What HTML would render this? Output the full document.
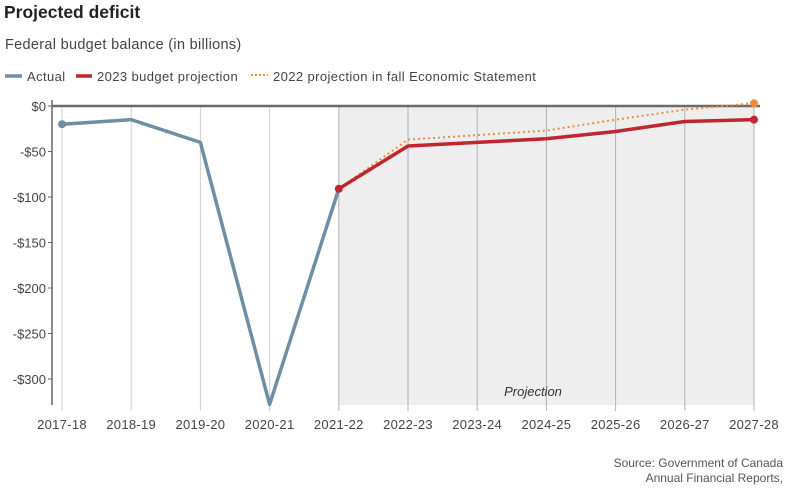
<!DOCTYPE html>
<html><head><meta charset="utf-8"><style>
body{margin:0;background:#fff;font-family:"Liberation Sans",sans-serif;}
svg text{font-family:"Liberation Sans",sans-serif;}
</style></head><body>
<svg id="chart" width="790" height="488" viewBox="0 0 790 488">
<text x="4" y="18" font-size="17.5" font-weight="bold" fill="#222">Projected deficit</text>
<text x="5" y="49" font-size="14.5" fill="#444" letter-spacing="0.3">Federal budget balance (in billions)</text>
<g>
<line x1="5" y1="76" x2="22" y2="76" stroke="#6d8ea3" stroke-width="3.5"/>
<text x="27" y="81" font-size="13" fill="#444" letter-spacing="0.4">Actual</text>
<line x1="76" y1="76" x2="92" y2="76" stroke="#c0262f" stroke-width="3.5"/>
<text x="97" y="81" font-size="13" fill="#444" letter-spacing="0.4">2023 budget projection</text>
<line x1="251" y1="75" x2="268" y2="75" stroke="#ee8a3c" stroke-width="2" stroke-dasharray="2,2"/>
<text x="273" y="81" font-size="13" fill="#444" letter-spacing="0.4">2022 projection in fall Economic Statement</text>
</g>
<g id="plot"></g>
<text x="783" y="467" font-size="12" fill="#555" text-anchor="end">Source: Government of Canada</text>
<text x="783" y="482" font-size="12" fill="#555" text-anchor="end">Annual Financial Reports,</text>
</svg>
<script>
const categories=["2017-18","2018-19","2019-20","2020-21","2021-22","2022-23","2023-24","2024-25","2025-26","2026-27","2027-28"];
const actual=[-20,-15,-40,-328,-91];
const budget2023=[null,null,null,null,-91,-44,-40,-36,-28,-17,-15];
const fes2022=[null,null,null,null,-91,-37,-32,-27,-15,-4,3];
const yTicks=[0,-50,-100,-150,-200,-250,-300];
const yLabels=["$0","-$50","-$100","-$150","-$200","-$250","-$300"];
const NS="http://www.w3.org/2000/svg";
const g=document.getElementById('plot');
const x0=62,x1=754,yTop=106,yBot=405;
const X=i=>x0+i*(x1-x0)/(categories.length-1);
const Y=v=>yTop-v*0.91;
function mk(t,a){const e=document.createElementNS(NS,t);for(const k in a)e.setAttribute(k,a[k]);g.appendChild(e);return e;}
let e=mk('rect',{x:X(4),y:yTop,width:X(10)-X(4),height:yBot-yTop,fill:'#eeeeee'});


categories.forEach((c,i)=>{
 let l=mk('line',{x1:X(i),x2:X(i),y1:yTop,y2:yBot+6,stroke:i>=4?'#a9b4bc':'#cfcfcf','stroke-width':1});
 
 
 let t=mk('text',{x:X(i),y:429,'font-size':13,fill:'#444','text-anchor':'middle','letter-spacing':0.3});
 t.textContent=c;
 
 
});
yTicks.forEach((v,i)=>{
 let t=mk('text',{x:46,y:Y(v)+5,'font-size':13,fill:'#444','text-anchor':'end'});
 t.textContent=yLabels[i];
 
 
 let tk=mk('line',{x1:48,x2:52,y1:Y(v),y2:Y(v),stroke:'#666'});
 
 
});
e=mk('line',{x1:52,x2:52,y1:100,y2:yBot,stroke:'#666','stroke-width':1.5});


e=mk('line',{x1:52,x2:760,y1:Y(0),y2:Y(0),stroke:'#6b6b6b','stroke-width':2.5});


e=mk('text',{x:533,y:396,'font-size':13,fill:'#333','font-style':'italic','text-anchor':'middle'});
e.textContent='Projection';


function pts(arr){return arr.map((v,i)=>v==null?null:X(i)+','+Y(v)).filter(p=>p).join(' ');}
e=mk('polyline',{points:pts(actual),fill:'none',stroke:'#6d8ea3','stroke-width':3.5,'stroke-linejoin':'round'});


e=mk('circle',{cx:X(0),cy:Y(actual[0]),r:4,fill:'#6d8ea3'});


e=mk('polyline',{points:pts(fes2022),fill:'none',stroke:'#ee8a3c','stroke-width':2,'stroke-dasharray':'2,3'});


e=mk('polyline',{points:pts(budget2023),fill:'none',stroke:'#c0262f','stroke-width':3.5,'stroke-linejoin':'round'});


e=mk('circle',{cx:X(4),cy:Y(budget2023[4]),r:4,fill:'#c0262f'});


e=mk('circle',{cx:X(10),cy:Y(budget2023[10]),r:4,fill:'#c0262f'});


e=mk('circle',{cx:X(10),cy:Y(fes2022[10]),r:4,fill:'#ee8a3c'});


</script>
</body></html>
